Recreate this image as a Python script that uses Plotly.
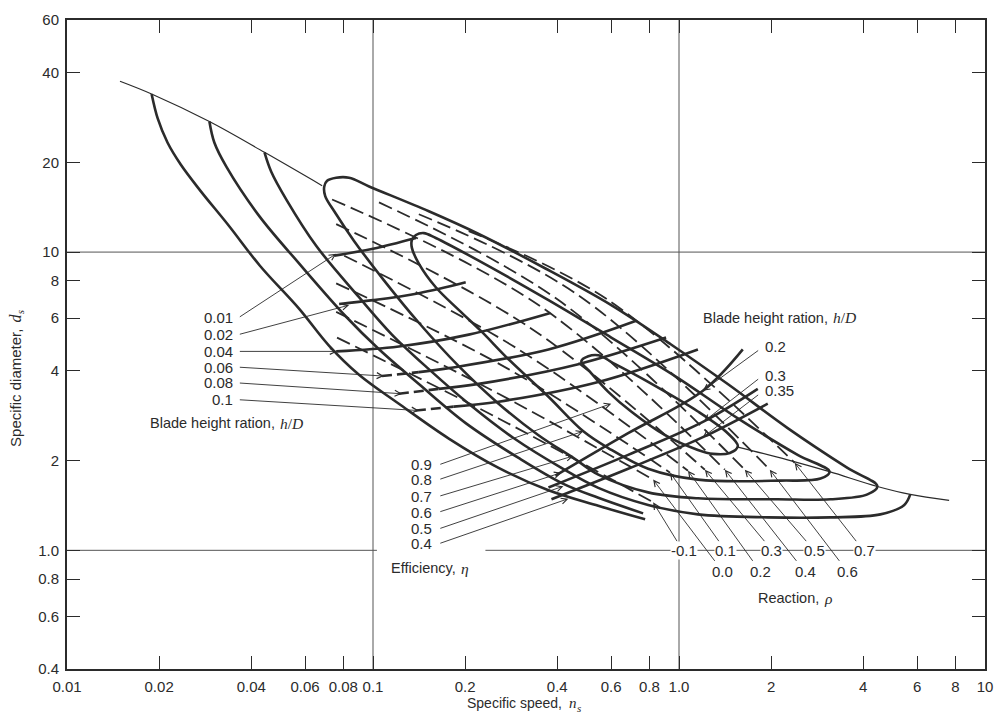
import numpy as np
import plotly.graph_objects as go

# ---------------- data (specific speed ns, specific diameter ds) ----------------
# thin envelope line
env_left_ns = [0.0149, 0.0189, 0.0292, 0.0442, 0.0682]
env_left_ds = [37.4, 33.9, 27.4, 21.6, 16.7]
env_right_ns = [1.557, 2.265, 3.104, 4.449, 5.698, 7.634]
env_right_ds = [2.219, 2.010, 1.835, 1.637, 1.540, 1.471]

# efficiency contours
eta04_ns = [0.0189, 0.0198, 0.0213, 0.0235, 0.0271, 0.0337, 0.0427, 0.0574, 0.0719, 0.0900,
            0.1215, 0.1769, 0.2573, 0.3745, 0.5449, 0.7751]
eta04_ds = [33.9, 28.0, 23.3, 19.7, 16.2, 12.3, 9.0, 6.45, 4.85, 3.88,
            3.10, 2.37, 1.89, 1.59, 1.41, 1.27]
eta05_ns = [0.0292, 0.0303, 0.0332, 0.0425, 0.0574, 0.0817, 0.1046, 0.1412, 0.2009, 0.2990,
            0.4190, 0.5449, 0.7634]
eta05_ds = [27.4, 23.3, 19.3, 13.2, 9.15, 6.07, 4.72, 3.61, 2.67, 2.04,
            1.67, 1.50, 1.33]
eta06_ns = [0.0442, 0.0465, 0.0521, 0.0652, 0.0900, 0.1153, 0.1522, 0.2055, 0.2879, 0.4128,
            0.5449, 0.7926, 1.153, 1.950, 3.127, 4.550, 5.448, 5.698]
eta06_ds = [21.6, 18.6, 15.0, 10.5, 7.06, 5.29, 4.05, 3.10, 2.38, 1.89,
            1.62, 1.42, 1.32, 1.29, 1.29, 1.32, 1.42, 1.54]
eta07_ns = [0.0693, 0.0708, 0.0758, 0.0835, 0.0971, 0.1522, 0.2215, 0.3661, 0.6006, 0.9419,
            1.443, 2.265, 3.552, 4.449,
            4.128, 3.127, 2.102, 1.153, 0.7926, 0.5449, 0.4516, 0.3474, 0.2573, 0.1906,
            0.1412, 0.1086, 0.0867, 0.0747, 0.0698, 0.0693]
eta07_ds = [16.6, 17.34, 17.75, 17.75, 16.6, 13.7, 11.5, 8.81, 6.64, 4.90,
            3.61, 2.57, 1.89, 1.64,
            1.54, 1.483, 1.483, 1.494, 1.564, 1.794, 2.041, 2.432, 3.103, 4.144,
            5.794, 8.04, 10.90, 13.7, 15.4, 16.6]
eta08_ns = [0.1340, 0.1381, 0.1466, 0.1604, 0.2215, 0.3745, 0.6006, 0.9705, 1.557, 2.441, 3.104,
            2.901, 2.149, 1.153, 0.7926, 0.5873, 0.4867, 0.3745, 0.2773, 0.2265, 0.1906,
            0.1604, 0.1412, 0.1340, 0.1340]
eta08_ds = [10.98, 11.41, 11.58, 11.15, 9.36, 6.90, 5.17, 3.84, 2.77, 2.09, 1.835,
            1.740, 1.713, 1.726, 1.877, 2.203, 2.507, 3.273, 4.370, 5.409, 6.397,
            7.620, 9.15, 10.33, 10.98]
eta09_ns = [0.4795, 0.5053, 0.5449, 0.6189, 0.7926, 1.153, 1.443, 1.557,
            1.466, 1.291, 1.153, 0.9005, 0.6977, 0.5873, 0.5130, 0.4795]
eta09_ds = [4.305, 4.472, 4.506, 4.208, 3.669, 2.920, 2.470, 2.236,
            2.121, 2.105, 2.170, 2.432, 2.920, 3.400, 3.959, 4.305]

# blade height ratio h/D lines (solid part)
hd_values = ["0.01", "0.02", "0.04", "0.06", "0.08", "0.1", "0.2", "0.3", "0.35"]
hd_ns = [
    [0.0747, 0.1, 0.1381],
    [0.0775, 0.1, 0.1412, 0.2009],
    [0.0758, 0.1215, 0.2055, 0.3801],
    [0.1412, 0.1769, 0.3745, 0.7244],
    [0.1641, 0.2215, 0.4688, 0.9073],
    [0.1835, 0.2573, 0.5449, 1.153],
    [0.3946, 0.682, 1.197, 1.616],
    [0.3745, 0.682, 1.206, 1.809],
    [0.3830, 0.682, 1.197, 1.950],
]
hd_ds = [
    [9.73, 10.26, 11.15],
    [6.70, 6.90, 7.28, 7.92],
    [4.645, 4.826, 5.287, 6.253],
    [3.959, 4.082, 4.716, 5.883],
    [3.478, 3.614, 4.208, 5.167],
    [3.033, 3.151, 3.669, 4.716],
    [1.780, 2.470, 3.426, 4.716],
    [1.624, 2.089, 2.706, 3.478],
    [1.483, 1.877, 2.395, 3.103],
]
# broken (dashed) beginnings of the h/D = 0.06, 0.08, 0.1 lines
hd_start_ns = [[0.1070, 0.1412], [0.1215, 0.1641], [0.1381, 0.1835]]
hd_start_ds = [[3.84, 3.959], [3.349, 3.478], [2.942, 3.033]]

# reaction lines (dashed)
rho_values = ["-0.1", "0.0", "0.1", "0.2", "0.3", "0.4", "0.5", "0.6", "0.7"]
rho_ns = [
    [0.0763, 0.2573, 0.8232],
    [0.0758, 0.2573, 0.8232],
    [0.0758, 0.2773, 0.9349],
    [0.0805, 0.2990, 1.070],
    [0.0758, 0.3223, 1.215],
    [0.0735, 0.3474, 1.412],
    [0.1046, 0.4036, 1.641],
    [0.1412, 0.4688, 1.980],
    [0.2055, 0.5873, 2.388],
]
rho_ds = [
    [5.167, 2.768, 1.449],
    [6.300, 3.349, 1.726],
    [7.855, 4.051, 1.821],
    [9.725, 4.716, 1.849],
    [12.41, 5.619, 1.863],
    [15.01, 6.644, 1.863],
    [14.67, 6.902, 1.863],
    [13.39, 7.17, 1.863],
    [11.76, 6.902, 1.965],
]

# label positions and leader lines
hd_left_labels = ["0.01", "0.02", "0.04", "0.06", "0.08", "0.1"]
hd_left_lab_ns = 0.0355
hd_left_lab_ds = [6.02, 5.287, 4.645, 4.113, 3.641, 3.199]
hd_left_tail_ns = 0.0363
hd_left_tip_ns = [0.0758, 0.0836, 0.0763, 0.1086, 0.1243, 0.1412]
hd_left_tip_ds = [9.87, 6.64, 4.645, 3.84, 3.349, 2.942]

eta_labels = ["0.9", "0.8", "0.7", "0.6", "0.5", "0.4"]
eta_lab_ns = 0.158
eta_lab_ds = [1.935, 1.726, 1.517, 1.343, 1.180, 1.052]
eta_tail_ns = 0.1641
eta_tip_ns = [0.6006, 0.4867, 0.4516, 0.4128, 0.4190, 0.4350]
eta_tip_ds = [3.103, 2.507, 2.072, 1.821, 1.640, 1.490]

hd_right_labels = ["0.2", "0.3", "0.35"]
hd_right_lab_ns = 1.877
hd_right_lab_ds = [4.826, 3.870, 3.426]
hd_right_tail_ns = 1.835
hd_right_tail_ds = [4.716, 3.782, 3.349]
hd_right_tip_ns = [1.197, 1.206, 1.197]
hd_right_tip_ds = [3.426, 2.706, 2.395]

rho_lab_ns = [1.038, 1.392, 1.422, 1.850, 2.009, 2.592, 2.773, 3.552, 4.036]
rho_lab_ds = [0.998, 0.850, 0.998, 0.850, 0.998, 0.850, 0.998, 0.850, 0.998]
rho_tail_ns = [0.9924, 1.320, 1.361, 1.755, 1.921, 2.441, 2.632, 3.371, 3.830]
rho_tail_ds = [1.060, 0.911, 1.060, 0.911, 1.060, 0.911, 1.060, 0.911, 1.060]
rho_tip_ns = [0.8232, 0.8232, 0.9349, 1.070, 1.215, 1.412, 1.641, 1.980, 2.388]
rho_tip_ds = [1.449, 1.726, 1.821, 1.849, 1.863, 1.863, 1.863, 1.863, 1.965]

# group captions: (sans text, italic symbol, split ns, ds)
captions = [
    ("Blade height ration,", "<i>h</i>/<i>D</i>", 0.0483, 2.665),
    ("Blade height ration,", "<i>h</i>/<i>D</i>", 3.081, 6.02),
    ("Efficiency,", "<i>η</i>", 0.1878, 0.870),
    ("Reaction,", "<i>ρ</i>", 2.879, 0.692),
]

x_tickvals = [0.01, 0.02, 0.04, 0.06, 0.08, 0.1, 0.2, 0.4, 0.6, 0.8, 1, 2, 4, 6, 8, 10]
x_ticktext = ["0.01", "0.02", "0.04", "0.06", "0.08", "0.1", "0.2", "0.4", "0.6", "0.8",
              "1.0", "2", "4", "6", "8", "10"]
y_tickvals = [0.4, 0.6, 0.8, 1, 2, 4, 6, 8, 10, 20, 40, 60]
y_ticktext = ["0.4", "0.6", "0.8", "1.0", "2", "4", "6", "8", "10", "20", "40", "60"]

# ---------------- figure ----------------
INK = "#2b2b2b"
FONT = "Liberation Sans, Arial, sans-serif"
SERIFF = "Liberation Serif, Times New Roman, serif"

fig = go.Figure()

def line(xs, ys, width=2.6, dash=None, color=INK, shape="spline"):
    fig.add_trace(go.Scatter(x=xs, y=ys, mode="lines", hoverinfo="skip", showlegend=False,
                             line=dict(color=color, width=width, dash=dash, shape=shape,
                                       smoothing=1.0)))

# grid lines (only at decades)
line([0.1, 0.1], [0.4, 60], width=1, color="#555", shape="linear")
line([1, 1], [0.4, 60], width=1, color="#555", shape="linear")
line([0.01, 10], [10, 10], width=1, color="#555", shape="linear")
line([0.01, 0.103], [1, 1], width=1, color="#555", shape="linear")
line([0.233, 10], [1, 1], width=1, color="#555", shape="linear")

# envelope
line(env_left_ns, env_left_ds, width=1.2)
line(env_right_ns, env_right_ds, width=1.2)

# reaction lines
for xs, ys in zip(rho_ns, rho_ds):
    line(xs, ys, width=1.8, dash="14px,6px")

# efficiency contours
for xs, ys in [(eta04_ns, eta04_ds), (eta05_ns, eta05_ds), (eta06_ns, eta06_ds),
               (eta07_ns, eta07_ds), (eta08_ns, eta08_ds), (eta09_ns, eta09_ds)]:
    line(xs, ys, width=2.6)

# blade height lines
for xs, ys in zip(hd_ns, hd_ds):
    line(xs, ys, width=2.6)
for xs, ys in zip(hd_start_ns, hd_start_ds):
    line(xs, ys, width=2.6, dash="10px,5px", shape="linear")

ann = []
lg = np.log10

def label(x, y, text, xanchor="center", size=15, bg=None, family=FONT, pad=1):
    d = dict(x=lg(x), y=lg(y), xref="x", yref="y", text=text, showarrow=False,
             xanchor=xanchor, yanchor="middle", borderpad=pad,
             font=dict(size=size, color=INK, family=family))
    if bg:
        d.update(bgcolor=bg, borderpad=0)
    ann.append(d)

def arrow(tx, ty, hx, hy):
    ann.append(dict(x=lg(hx), y=lg(hy), ax=lg(tx), ay=lg(ty), xref="x", yref="y",
                    axref="x", ayref="y", text="", showarrow=True, arrowhead=5,
                    arrowsize=1.3, arrowwidth=0.9, arrowcolor=INK, standoff=0, startstandoff=0))

for t, yy, hx, hy in zip(hd_left_labels, hd_left_lab_ds, hd_left_tip_ns, hd_left_tip_ds):
    label(hd_left_lab_ns, yy, t, xanchor="right")
    arrow(hd_left_tail_ns, yy, hx, hy)

for t, yy, hx, hy in zip(eta_labels, eta_lab_ds, eta_tip_ns, eta_tip_ds):
    label(eta_lab_ns, yy, t, xanchor="right")
    arrow(eta_tail_ns, yy, hx, hy)

for t, yy, ty, hx, hy in zip(hd_right_labels, hd_right_lab_ds, hd_right_tail_ds,
                             hd_right_tip_ns, hd_right_tip_ds):
    label(hd_right_lab_ns, yy, t, xanchor="left")
    arrow(hd_right_tail_ns, ty, hx, hy)

for t, lx, ly, tx, ty, hx, hy in zip(rho_values, rho_lab_ns, rho_lab_ds, rho_tail_ns,
                                     rho_tail_ds, rho_tip_ns, rho_tip_ds):
    arrow(tx, ty, hx, hy)
    label(lx, ly, t, bg="white")

for sans, sym, sx, sy in captions:
    label(sx, sy, sans, xanchor="right", size=14.5, pad=0)
    label(sx * 1.024, sy, sym, xanchor="left", size=15.5, family=SERIFF, pad=0)

# axis titles (symbol and its subscript drawn as separate italic serif texts)
def ptext(x, y, text, size, family, xanchor, yanchor, angle=0, xshift=0, yshift=0):
    ann.append(dict(x=x, y=y, xref="paper", yref="paper", showarrow=False, text=text,
                    xanchor=xanchor, yanchor=yanchor, textangle=angle,
                    xshift=xshift, yshift=yshift,
                    font=dict(size=size, color=INK, family=family)))

ptext(0.5412, -0.0517, "Specific speed,", 14, FONT, "right", "middle")
ptext(0.5445, -0.0517, "<i>n</i>", 15, SERIFF, "left", "middle")
ptext(0.5535, -0.0517, "<i>s</i>", 11, SERIFF, "left", "middle", yshift=-5)
ptext(-0.0564, 0.5274, "Specific diameter,", 15, FONT, "center", "top", angle=-90)
ptext(-0.0564, 0.5304, "<i>d</i>", 16, SERIFF, "center", "bottom", angle=-90)
ptext(-0.0564, 0.5440, "<i>s</i>", 11, SERIFF, "center", "bottom", angle=-90, xshift=5)

axis_common = dict(type="log", showgrid=False, zeroline=False, showline=True, linewidth=2,
                   linecolor=INK, ticks="inside", ticklen=13, tickwidth=1.2, tickcolor=INK,
                   mirror="ticks", tickfont=dict(size=15, color=INK, family=FONT))

fig.update_layout(
    width=1004, height=719,
    margin=dict(l=67, r=15, t=11, b=50),
    paper_bgcolor="white", plot_bgcolor="white",
    xaxis=dict(range=[-2, 1], tickvals=x_tickvals, ticktext=x_ticktext,
               ticklabelstandoff=3, **axis_common),
    yaxis=dict(range=[np.log10(0.4), np.log10(60)], tickvals=y_tickvals, ticktext=y_ticktext,
               ticklabelstandoff=3, **axis_common),
    annotations=ann,
    showlegend=False,
)

fig.write_html("out.html")
